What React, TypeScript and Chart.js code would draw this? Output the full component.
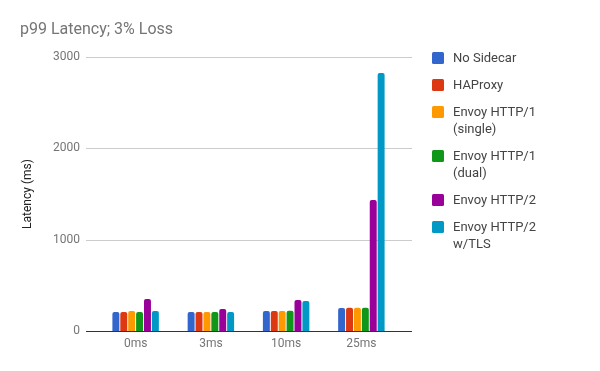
import React, { useEffect, useRef } from "react";
import { Chart, registerables } from "chart.js";

Chart.register(...registerables);

const categories = ["0ms", "3ms", "10ms", "25ms"];
const seriesNames = [
  "No Sidecar",
  "HAProxy",
  "Envoy HTTP/1\n(single)",
  "Envoy HTTP/1\n(dual)",
  "Envoy HTTP/2",
  "Envoy HTTP/2\nw/TLS",
];
const noSidecar = [208, 208, 220, 252];
const haproxy = [208, 208, 220, 255];
const envoyH1Single = [220, 208, 220, 255];
const envoyH1Dual = [208, 208, 222, 255];
const envoyH2 = [350, 241, 340, 1435];
const envoyH2Tls = [220, 208, 329, 2825];
const seriesValues = [noSidecar, haproxy, envoyH1Single, envoyH1Dual, envoyH2, envoyH2Tls];
const seriesColors = ["#3366cc", "#dc3912", "#ff9900", "#109618", "#990099", "#0099c6"];
const yTicks = [0, 1000, 2000, 3000];
const titleText = "p99 Latency; 3% Loss";
const yAxisTitle = "Latency (ms)";

const FONT = "Roboto, 'Noto Sans', Arial, sans-serif";

const decorPlugin = {
  id: "decor",
  beforeDatasetsDraw(chart: any) {
    const { ctx, chartArea, scales } = chart;
    const y = scales.y;
    ctx.save();
    ctx.lineWidth = 1;
    ctx.strokeStyle = "#cccccc";
    for (const t of yTicks) {
      if (t === 0) continue;
      const py = Math.round(y.getPixelForValue(t)) + 0.5;
      ctx.beginPath();
      ctx.moveTo(chartArea.left - 12, py);
      ctx.lineTo(chartArea.right + 13, py);
      ctx.stroke();
    }
    ctx.restore();
  },
  afterDatasetsDraw(chart: any) {
    const { ctx, chartArea, scales } = chart;
    const y = scales.y;
    ctx.save();
    ctx.lineWidth = 1;
    ctx.strokeStyle = "#333333";
    const py = Math.round(y.getPixelForValue(0)) + 0.5;
    ctx.beginPath();
    ctx.moveTo(chartArea.left - 12, py);
    ctx.lineTo(chartArea.right + 13, py);
    ctx.stroke();
    ctx.restore();
  },
  afterDraw(chart: any) {
    const { ctx } = chart;
    ctx.save();
    ctx.fillStyle = "#757575";
    ctx.font = `16px ${FONT}`;
    ctx.textAlign = "left";
    ctx.textBaseline = "alphabetic";
    ctx.fillText(titleText, 20, 34);
    ctx.font = `13px ${FONT}`;
    ctx.textBaseline = "middle";
    let cy = 58;
    seriesNames.forEach((name, i) => {
      const lines = name.split("\n");
      ctx.fillStyle = seriesColors[i];
      const bx = 432, bs = 12;
      ctx.beginPath();
      if ((ctx as any).roundRect) (ctx as any).roundRect(bx, cy - bs / 2, bs, bs, 1.5);
      else ctx.rect(bx, cy - bs / 2, bs, bs);
      ctx.fill();
      ctx.fillStyle = "#444444";
      lines.forEach((ln, j) => {
        ctx.fillText(ln, 453, cy + 1 + j * 17);
      });
      cy += 27 + (lines.length - 1) * 17;
    });
    ctx.restore();
  },
};

export default function App() {
  const ref = useRef<HTMLCanvasElement>(null);
  useEffect(() => {
    document.body.style.margin = "0";
    const chart = new Chart(ref.current!, {
      type: "bar",
      data: {
        labels: categories,
        datasets: seriesValues.map((vals, i) => ({
          label: seriesNames[i],
          data: vals,
          backgroundColor: seriesColors[i],
          borderRadius: { topLeft: 2, topRight: 2, bottomLeft: 0, bottomRight: 0 },
          borderSkipped: false as any,
          categoryPercentage: 0.63,
          barPercentage: 0.88,
        })),
      },
      options: {
        responsive: false,
        animation: false,
        layout: { padding: { left: 14, right: 201, top: 57, bottom: 0 } },
        plugins: {
          legend: { display: false },
          title: { display: false },
          tooltip: { enabled: false },
        },
        scales: {
          x: {
            grid: { display: false, drawTicks: false },
            border: { display: false },
            ticks: { color: "#757575", font: { family: FONT, size: 12 }, padding: 6 },
            afterFit: (s: any) => { s.height = 40; },
          },
          y: {
            min: 0,
            max: 3000,
            afterBuildTicks: (s: any) => { s.ticks = yTicks.map((v) => ({ value: v })); },
            grid: { display: false, drawTicks: false },
            border: { display: false },
            ticks: {
              color: "#757575",
              font: { family: FONT, size: 12 },
              padding: 18,
              callback: (v: any) => String(v),
            },
            title: {
              display: true,
              text: yAxisTitle,
              color: "#222222",
              font: { family: FONT, size: 12 },
              padding: { top: 7, bottom: 0 },
            },
            afterFit: (s: any) => { s.width = 84; },
          },
        },
      },
      plugins: [decorPlugin],
    });
    return () => chart.destroy();
  }, []);
  return (
    <div style={{ position: "absolute", left: 0, top: 0, width: 600, height: 371, background: "#fff" }}>
      <canvas ref={ref} width={600} height={371} />
    </div>
  );
}
